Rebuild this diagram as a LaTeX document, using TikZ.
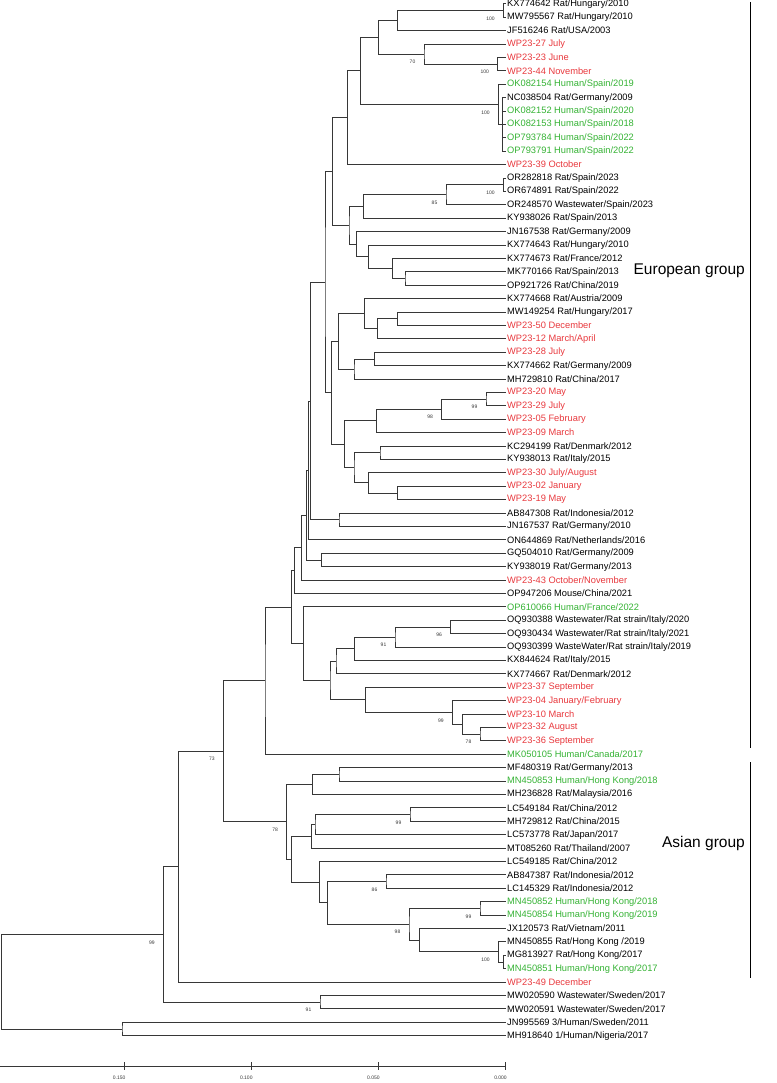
\documentclass[tikz,border=0pt]{standalone}
\usepackage{fontspec}
\setmainfont{Liberation Sans}
\usetikzlibrary{calc}
\definecolor{wpred}{RGB}{232,56,61}
\definecolor{hgreen}{RGB}{52,178,51}
\definecolor{brc}{RGB}{55,55,55}
\tikzset{
  br/.style={draw=brc, line width=0.8pt},
  lab/.style={font=\fontsize{9.3}{10}\selectfont, inner sep=0pt, anchor=west},
  bsl/.style={font=\fontsize{5}{5}\selectfont, inner sep=0pt, anchor=east, text=brc},
  grp/.style={font=\fontsize{15.5}{16}\selectfont, inner sep=0pt},
}
\newcommand\lf[3]{%
  \coordinate (L#1) at (505.5,{-(3.8+(#1-1)*13.4)});
  \node[lab,text=#2] (T#1) at (507,{-(3.8+(#1-1)*13.4)}) {#3};}
\newcommand\jn[4]{%
  \path let \p1=(#3), \p2=(#4) in coordinate (#1) at (#2,{(\y1+\y2)/2});
  \draw[br] (#3) -| (#1) |- (#4);}
\newcommand\bs[2]{\node[bsl] (B#1) at ([xshift=-8.5pt,yshift=-8pt]#1) {#2};}
\begin{document}
\begin{tikzpicture}[x=1pt,y=1pt]
\useasboundingbox (0,0) rectangle (776,-1083);
\lf{1}{black}{KX774642 Rat/Hungary/2010}
\lf{2}{black}{MW795567 Rat/Hungary/2010}
\lf{3}{black}{JF516246 Rat/USA/2003}
\lf{4}{wpred}{WP23-27 July}
\lf{5}{wpred}{WP23-23 June}
\lf{6}{wpred}{WP23-44 November}
\lf{7}{hgreen}{OK082154 Human/Spain/2019}
\lf{8}{black}{NC038504 Rat/Germany/2009}
\lf{9}{hgreen}{OK082152 Human/Spain/2020}
\lf{10}{hgreen}{OK082153 Human/Spain/2018}
\lf{11}{hgreen}{OP793784 Human/Spain/2022}
\lf{12}{hgreen}{OP793791 Human/Spain/2022}
\lf{13}{wpred}{WP23-39 October}
\lf{14}{black}{OR282818 Rat/Spain/2023}
\lf{15}{black}{OR674891 Rat/Spain/2022}
\lf{16}{black}{OR248570 Wastewater/Spain/2023}
\lf{17}{black}{KY938026 Rat/Spain/2013}
\lf{18}{black}{JN167538 Rat/Germany/2009}
\lf{19}{black}{KX774643 Rat/Hungary/2010}
\lf{20}{black}{KX774673 Rat/France/2012}
\lf{21}{black}{MK770166 Rat/Spain/2013}
\lf{22}{black}{OP921726 Rat/China/2019}
\lf{23}{black}{KX774668 Rat/Austria/2009}
\lf{24}{black}{MW149254 Rat/Hungary/2017}
\lf{25}{wpred}{WP23-50 December}
\lf{26}{wpred}{WP23-12 March/April}
\lf{27}{wpred}{WP23-28 July}
\lf{28}{black}{KX774662 Rat/Germany/2009}
\lf{29}{black}{MH729810 Rat/China/2017}
\lf{30}{wpred}{WP23-20 May}
\lf{31}{wpred}{WP23-29 July}
\lf{32}{wpred}{WP23-05 February}
\lf{33}{wpred}{WP23-09 March}
\lf{34}{black}{KC294199 Rat/Denmark/2012}
\lf{35}{black}{KY938013 Rat/Italy/2015}
\lf{36}{wpred}{WP23-30 July/August}
\lf{37}{wpred}{WP23-02 January}
\lf{38}{wpred}{WP23-19 May}
\lf{39}{black}{AB847308 Rat/Indonesia/2012}
\lf{40}{black}{JN167537 Rat/Germany/2010}
\lf{41}{black}{ON644869 Rat/Netherlands/2016}
\lf{42}{black}{GQ504010 Rat/Germany/2009}
\lf{43}{black}{KY938019 Rat/Germany/2013}
\lf{44}{wpred}{WP23-43 October/November}
\lf{45}{black}{OP947206 Mouse/China/2021}
\lf{46}{hgreen}{OP610066 Human/France/2022}
\lf{47}{black}{OQ930388 Wastewater/Rat strain/Italy/2020}
\lf{48}{black}{OQ930434 Wastewater/Rat strain/Italy/2021}
\lf{49}{black}{OQ930399 WasteWater/Rat strain/Italy/2019}
\lf{50}{black}{KX844624 Rat/Italy/2015}
\lf{51}{black}{KX774667 Rat/Denmark/2012}
\lf{52}{wpred}{WP23-37 September}
\lf{53}{wpred}{WP23-04 January/February}
\lf{54}{wpred}{WP23-10 March}
\lf{55}{wpred}{WP23-32 August}
\lf{56}{wpred}{WP23-36 September}
\lf{57}{hgreen}{MK050105 Human/Canada/2017}
\lf{58}{black}{MF480319 Rat/Germany/2013}
\lf{59}{hgreen}{MN450853 Human/Hong Kong/2018}
\lf{60}{black}{MH236828 Rat/Malaysia/2016}
\lf{61}{black}{LC549184 Rat/China/2012}
\lf{62}{black}{MH729812 Rat/China/2015}
\lf{63}{black}{LC573778 Rat/Japan/2017}
\lf{64}{black}{MT085260 Rat/Thailand/2007}
\lf{65}{black}{LC549185 Rat/China/2012}
\lf{66}{black}{AB847387 Rat/Indonesia/2012}
\lf{67}{black}{LC145329 Rat/Indonesia/2012}
\lf{68}{hgreen}{MN450852 Human/Hong Kong/2018}
\lf{69}{hgreen}{MN450854 Human/Hong Kong/2019}
\lf{70}{black}{JX120573 Rat/Vietnam/2011}
\lf{71}{black}{MN450855 Rat/Hong Kong /2019}
\lf{72}{black}{MG813927 Rat/Hong Kong/2017}
\lf{73}{hgreen}{MN450851 Human/Hong Kong/2017}
\lf{74}{wpred}{WP23-49 December}
\lf{75}{black}{MW020590 Wastewater/Sweden/2017}
\lf{76}{black}{MW020591 Wastewater/Sweden/2017}
\lf{77}{black}{JN995569 3/Human/Sweden/2011}
\lf{78}{black}{MH918640 1/Human/Nigeria/2017}
% European clade, top
\jn{a1}{503.3}{L1}{L2} \bs{a1}{100}
\jn{a2}{397.3}{a1}{L3}
\jn{a3}{497.7}{L5}{L6} \bs{a3}{100}
\jn{a4}{424}{L4}{a3} \bs{a4}{70}
\jn{a5}{378.3}{a2}{a4}
\coordinate (s1) at (502.7,-124.4);
\draw[br] (L8) -| (s1) (L9) -| (s1) (L10) -| (s1) (L11) -| (s1);
\draw[br] (L12) -| (s1) |- (L8);
\jn{s2}{498.3}{L7}{s1} \bs{s2}{100}
\jn{a6}{360.7}{a5}{s2}
\jn{a7}{347.3}{a6}{L13}
\jn{b1}{503.3}{L14}{L15} \bs{b1}{100}
\jn{b2}{446}{b1}{L16} \bs{b2}{85}
\jn{b3}{363.3}{b2}{L17}
\jn{c1}{405}{L21}{L22}
\jn{c2}{392.7}{L20}{c1}
\jn{c3}{368.3}{L19}{c2}
\jn{c4}{356.7}{L18}{c3}
\jn{b4}{349}{b3}{c4}
\jn{a8}{332.3}{a7}{b4}
\jn{d1}{397.3}{L24}{L25}
\jn{d2}{377.7}{d1}{L26}
\jn{d3}{364.3}{L23}{d2}
\jn{d4}{374.3}{L27}{L28}
\jn{d5}{354}{d4}{L29}
\jn{d6}{338.3}{d3}{d5}
\jn{e1}{486}{L30}{L31} \bs{e1}{99}
\jn{e2}{441.7}{e1}{L32} \bs{e2}{98}
\jn{e3}{376.7}{e2}{L33}
\jn{e4}{380}{L34}{L35}
\jn{e5}{397.7}{L37}{L38}
\jn{e6}{368.3}{L36}{e5}
\jn{e7}{354}{e4}{e6}
\jn{e8}{344.3}{e3}{e7}
\jn{d7}{331.7}{d6}{e8}
\jn{a9}{325}{a8}{d7}
\jn{f1}{339}{L39}{L40}
\jn{n1}{310.3}{a9}{f1}
\jn{n2}{308.3}{n1}{L41}
\jn{f2}{321.7}{L42}{L43}
\jn{n3}{306.7}{n2}{f2}
\jn{n4}{301.7}{n3}{L44}
\jn{n5}{294.3}{n4}{L45}
\jn{g1}{450.7}{L47}{L48} \bs{g1}{96}
\jn{g2}{395}{g1}{L49} \bs{g2}{91}
\jn{g3}{354.3}{g2}{L50}
\jn{g4}{336}{g3}{L51}
\jn{h1}{480}{L55}{L56} \bs{h1}{78}
\jn{h2}{462.3}{L54}{h1}
\jn{h3}{452.3}{L53}{h2} \bs{h3}{99}
\jn{h4}{365.7}{L52}{h3}
\jn{g5}{330}{g4}{h4}
\jn{g6}{303.3}{L46}{g5}
\jn{n6}{291.7}{n5}{g6}
\jn{eu}{265}{n6}{L57}
% Asian clade
\jn{i1}{339}{L58}{L59}
\jn{i2}{312.7}{i1}{L60}
\jn{j1}{410}{L61}{L62} \bs{j1}{99}
\jn{j2}{315}{j1}{L63}
\jn{j3}{311.7}{j2}{L64}
\jn{k1}{386}{L66}{L67} \bs{k1}{86}
\jn{k2}{480}{L68}{L69} \bs{k2}{99}
\jn{k3}{503.3}{L72}{L73}
\jn{k4}{498.3}{L71}{k3} \bs{k4}{100}
\jn{k5}{419.3}{L70}{k4}
\jn{k6}{409}{k2}{k5} \bs{k6}{98}
\jn{k7}{327.3}{k1}{k6}
\jn{k8}{319.3}{L65}{k7}
\jn{j4}{291.7}{j3}{k8}
\jn{as}{286.7}{i2}{j4} \bs{as}{78}
% deeper nodes
\jn{r73}{223.3}{eu}{as} \bs{r73}{73}
\jn{r2}{178.3}{r73}{L74}
\jn{sw}{320}{L75}{L76} \bs{sw}{91}
\jn{r99}{163.3}{r2}{sw} \bs{r99}{99}
\jn{og}{122}{L77}{L78}
\jn{root}{1.7}{r99}{og}
% group bars
\coordinate (euA) at (750,-2);
\coordinate (euB) at (750,-748);
\coordinate (asA) at (750,-762);
\coordinate (asB) at (750,-978);
\draw[line width=1pt,black] (euA) -- (euB);
\draw[line width=1pt,black] (asA) -- (asB);
\node[grp,anchor=east] (EG) at (745,-271) {European group};
\node[grp,anchor=east] (AG) at (745,-843) {Asian group};
% scale bar
\coordinate (s0) at (0,-1066);
\coordinate (s4) at (505.5,-1066);
\draw[line width=0.9pt,brc] (s0) -- (s4);
\foreach \t/\v [count=\k] in {124.2/0.150,251.3/0.100,378.4/0.050,505.5/0.000}{
  \coordinate (tk\k) at (\t,-1066);
  \draw[line width=0.9pt,brc] ([yshift=4pt]tk\k) -- ([yshift=-4pt]tk\k);
  \node[bsl,anchor=center] (tl\k) at ([xshift=-5pt,yshift=-12pt]tk\k) {\v};
}
\end{tikzpicture}
\end{document}
